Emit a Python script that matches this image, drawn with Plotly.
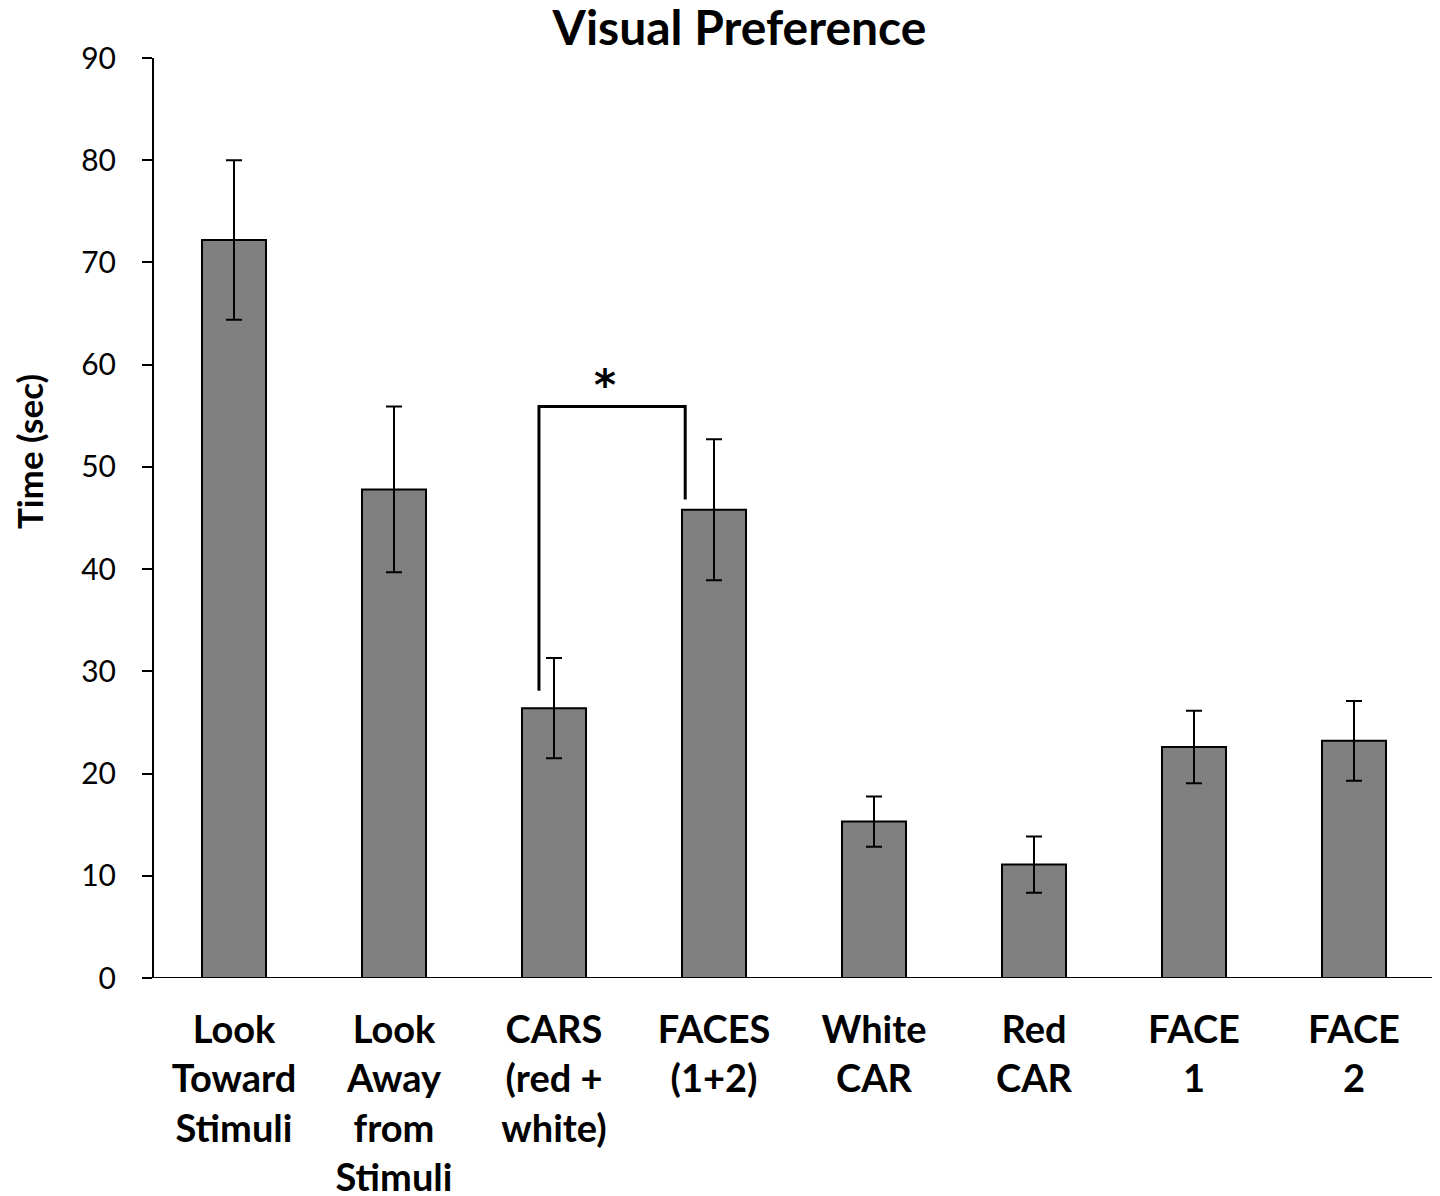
import plotly.graph_objects as go

categories = ["Look<br>Toward<br>Stimuli", "Look<br>Away<br>from<br>Stimuli", "CARS<br>(red +<br>white)",
              "FACES<br>(1+2)", "White<br>CAR", "Red<br>CAR", "FACE<br>1", "FACE<br>2"]
means = [72.2, 47.8, 26.4, 45.8, 15.3, 11.1, 22.6, 23.2]
errors = [7.8, 8.1, 4.9, 6.9, 2.45, 2.75, 3.55, 3.9]
y_ticks = [0, 10, 20, 30, 40, 50, 60, 70, 80, 90]

# significance bracket (category index positions, data values)
bracket_x = [1.906, 2.82]
bracket_y = [28.1, 55.9, 46.8]  # left bottom, top, right bottom
star_pos = (2.32, 58.3)
y_title_pos = 51.5

FONT = "Lato"

fig = go.Figure()
fig.add_trace(go.Bar(
    x=list(range(len(categories))), y=means, width=0.4,
    marker=dict(color="#808080", line=dict(color="black", width=2)),
    error_y=dict(type="data", array=errors, visible=True, color="black", thickness=2, width=8),
))

fig.add_shape(type="line", xref="paper", yref="y", x0=-0.0078, x1=1, y0=0, y1=0,
              line=dict(color="black", width=2))
fig.add_shape(type="path",
              path=f"M {bracket_x[0]} {bracket_y[0]} L {bracket_x[0]} {bracket_y[1]} L {bracket_x[1]} {bracket_y[1]} L {bracket_x[1]} {bracket_y[2]}",
              xref="x", yref="y", line=dict(color="black", width=3))
fig.add_annotation(x=star_pos[0], y=star_pos[1], text="*", showarrow=False, yshift=-3,
                   font=dict(family="DejaVu Sans", size=42, color="black", weight="bold"))
fig.add_annotation(xref="paper", yref="y", x=-0.098, y=y_title_pos, text="Time (sec)", textangle=-90,
                   showarrow=False, xanchor="center", yanchor="middle",
                   font=dict(family=FONT, size=35, color="black", weight="bold"))

fig.update_layout(
    width=1440, height=1196,
    margin=dict(l=146, r=14, t=50, b=226),
    plot_bgcolor="white", paper_bgcolor="white",
    showlegend=False,
    title=dict(text="Visual Preference", x=0.508, xanchor="center", y=0.983, yanchor="middle",
               font=dict(family=FONT, size=48, color="black", weight="bold")),
    xaxis=dict(range=[-0.5, 7.5], tickmode="array", tickvals=list(range(len(categories))),
               ticktext=categories, showline=False, showgrid=False, zeroline=False, ticks="",
               automargin=False, ticklabelstandoff=26,
               tickfont=dict(family=FONT, size=38, color="black", weight="bold")),
    yaxis=dict(range=[0, 90], tickmode="array", tickvals=y_ticks, showline=True, linecolor="black",
               linewidth=2, ticks="outside", ticklen=10, tickwidth=2, tickcolor="black",
               showgrid=False, zeroline=False, automargin=False, ticklabelstandoff=20,
               tickfont=dict(family=FONT, size=30, color="black")),
)

fig.write_html("out.html")
